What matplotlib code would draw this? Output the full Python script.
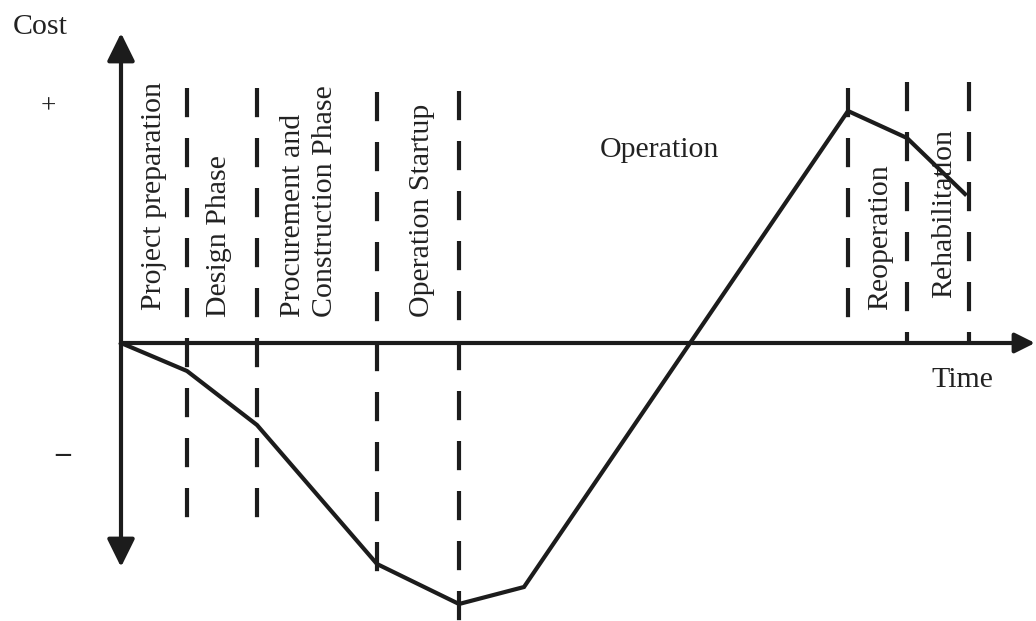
import matplotlib
matplotlib.use("Agg")
import matplotlib.pyplot as plt

plt.rcParams['font.family'] = ['Liberation Serif', 'DejaVu Serif']
plt.rcParams['lines.scale_dashes'] = False

# cost curve over the project life cycle (arbitrary units, origin at axis crossing)
curve_time = [0, 6.6, 13.6, 25.6, 33.8, 40.3, 72.7, 78.6, 84.4]
curve_cost = [0, -2.8, -8.2, -22.1, -26.1, -24.4, 23.2, 20.5, 14.9]

# phase boundaries: time, top and bottom of the dashed line
bound_time = [6.6, 13.6, 25.6, 33.8, 72.7, 78.6, 84.8]
bound_top = [25.5, 25.5, 25.1, 25.2, 25.5, 26.1, 26.1]
bound_bottom = [-17.9, -17.9, -23.5, -27.8, 2.5, 0.0, 0.0]

# vertical phase labels (text, time of label centre, cost of label start)
phase_labels = ["Project preparation", "Design Phase",
                "Procurement and\nConstruction Phase", "Operation Startup",
                "Reoperation", "Rehabilitation"]
label_time = [3.3, 9.8, 18.8, 30.1, 75.9, 82.3]
label_base = [3.3, 2.6, 2.6, 2.6, 3.3, 4.5]

ink = '#1c1c1c'
fs = 21.5

fig = plt.figure(figsize=(10.36, 6.21), dpi=100)
ax = fig.add_axes([0, 0, 1, 1])
ax.set_xlim(-12.1, 91.5)
ax.set_ylim(-27.8, 34.3)
ax.axis('off')

# axes arrows
ax.annotate('', xy=(0, 31.0), xytext=(0, -22.4),
            arrowprops=dict(arrowstyle='<|-|>,head_length=0.85,head_width=0.42',
                            mutation_scale=20, lw=3.0, color=ink,
                            shrinkA=0, shrinkB=0))
ax.annotate('', xy=(91.4, 0), xytext=(0, 0),
            arrowprops=dict(arrowstyle='-|>,head_length=0.6,head_width=0.3',
                            mutation_scale=20, lw=3.0, color=ink,
                            shrinkA=0, shrinkB=0))

# phase boundaries
for t, top, bot in zip(bound_time, bound_top, bound_bottom):
    ax.plot([t, t], [top, bot], color=ink, lw=3.0,
            linestyle=(0, (21, 15)), solid_capstyle='butt', dash_capstyle='butt')

# cost curve
ax.plot(curve_time, curve_cost, color=ink, lw=3.0, solid_joinstyle='miter')

for txt, t, b in zip(phase_labels, label_time, label_base):
    ax.text(t, b, txt, rotation=90, ha='center', va='bottom', fontsize=fs,
            color='#222222', multialignment='left', linespacing=1.35)

ax.text(53.8, 19.3, "Operation", ha='center', va='center', fontsize=fs, color='#222222')
ax.text(-8.1, 31.6, "Cost", ha='center', va='center', fontsize=fs, color='#222222')
ax.text(-7.3, 23.6, "+", ha='center', va='center', fontsize=fs - 2, color='#222222')
ax.text(-5.8, -11.2, "\u2013", ha='center', va='center', fontsize=fs,
        fontweight='bold', color='#222222')
ax.text(84.1, -3.7, "Time", ha='center', va='center', fontsize=fs, color='#222222')

fig.savefig('out.png', dpi=100)
